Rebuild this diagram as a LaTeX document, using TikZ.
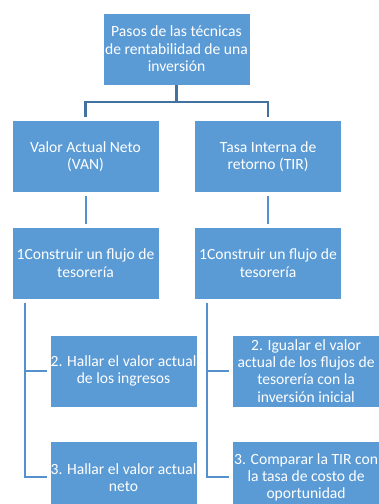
\documentclass[tikz,border=0pt]{standalone}
\usepackage{fontspec}
\setmainfont{Carlito}
\usetikzlibrary{positioning}

\definecolor{cajaazul}{RGB}{91,155,213}
\definecolor{ramaoscura}{RGB}{68,114,160}
\definecolor{ramaclara}{RGB}{84,145,205}

\begin{document}
\begin{tikzpicture}[x=1pt, y=-1pt,
  paso/.style={draw=white, line width=0.6pt, fill=cajaazul, text=white,
    minimum width=147pt, minimum height=72pt, inner sep=0.5pt, align=center,
    font=\fontsize{15.6}{17.4}\selectfont},
  rama/.style={draw=ramaoscura, line width=2.2pt},
  linea/.style={draw=ramaclara, line width=2pt}]
  \useasboundingbox (0,0) rectangle (379,504);

  % Nodes
  \node[paso] (pasos) at (176.5,49) {Pasos de las técnicas\\de rentabilidad de una\\inversión};
  \node[paso, below=35pt of pasos, xshift=-91pt] (van) {Valor Actual Neto\\(VAN)};
  \node[paso, right=35pt of van] (tir) {Tasa Interna de\\retorno (TIR)};
  \node[paso, below=34pt of van] (flujovan) {1Construir un flujo de\\tesorería};
  \node[paso, below=34pt of tir] (flujotir) {1Construir un flujo de\\tesorería};

  % Steps of each technique
  \node[paso, below=35pt of flujovan, xshift=38pt] (ingresos) {2. Hallar el valor actual\\de los ingresos};
  \node[paso, below=34pt of ingresos] (neto) {3. Hallar el valor actual\\neto};
  \node[paso, below=35pt of flujotir, xshift=38pt] (igualar) {2. Igualar el valor\\actual de los flujos de\\tesorería con la\\inversión inicial};
  \node[paso, below=34pt of igualar] (comparar) {3. Comparar la TIR con\\la tasa de costo de\\oportunidad};

  % Top branch
  \draw[rama, shorten >=3pt] (pasos.south) -- ++(0,-17pt) -| (van.north);
  \draw[rama, shorten >=3pt] (pasos.south) -- ++(0,-17pt) -| (tir.north);

  % Links down
  \draw[linea, shorten <=3pt, shorten >=3pt] (van) -- (flujovan);
  \draw[linea, shorten <=3pt, shorten >=3pt] (tir) -- (flujotir);
  \draw[linea] ([xshift=13pt, yshift=-3pt]flujovan.south west) |- ([xshift=-3pt]ingresos.west);
  \draw[linea] ([xshift=13pt, yshift=-3pt]flujovan.south west) |- ([xshift=-3pt]neto.west);
  \draw[linea] ([xshift=13pt, yshift=-3pt]flujotir.south west) |- ([xshift=-3pt]igualar.west);
  \draw[linea] ([xshift=13pt, yshift=-3pt]flujotir.south west) |- ([xshift=-3pt]comparar.west);
\end{tikzpicture}
\end{document}
